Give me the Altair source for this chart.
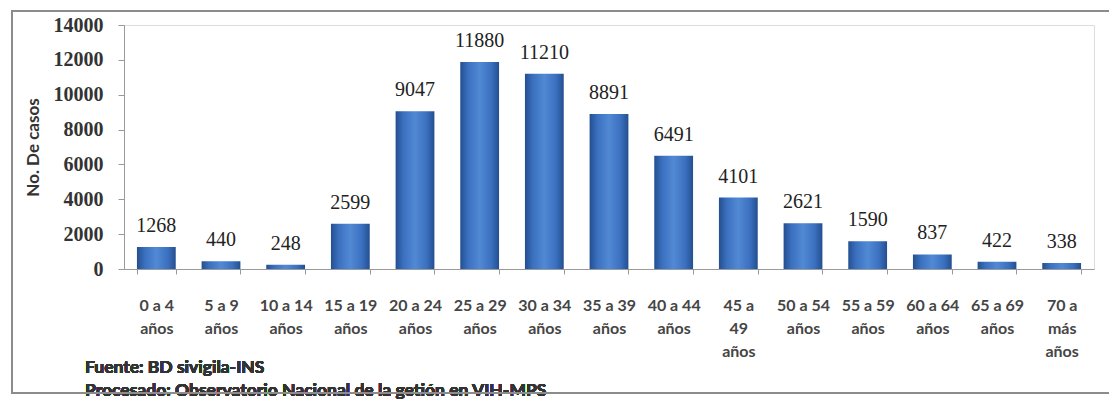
import altair as alt
import pandas as pd

# Age groups (line breaks as they wrap under each bar) and reported cases
grupos = [
    "0 a 4\naños", "5 a 9\naños", "10 a 14\naños", "15 a 19\naños",
    "20 a 24\naños", "25 a 29\naños", "30 a 34\naños", "35 a 39\naños",
    "40 a 44\naños", "45 a\n49\naños", "50 a 54\naños", "55 a 59\naños",
    "60 a 64\naños", "65 a 69\naños", "70 a\nmás\naños",
]
casos = [1268, 440, 248, 2599, 9047, 11880, 11210, 8891, 6491, 4101,
         2621, 1590, 837, 422, 338]
y_ticks = [0, 2000, 4000, 6000, 8000, 10000, 12000, 14000]

fuente = "Fuente: BD sivigila-INS"
procesado = "Procesado: Observatorio Nacional de la getión en VIH-MPS"

df = pd.DataFrame({"grupo": grupos, "casos": casos})

W, H = 970, 244
SANS = "Lato"
SERIF = "Liberation Serif"

bar_fill = alt.Gradient(
    gradient="linear",
    x1=0, x2=1, y1=0, y2=0,
    stops=[
        alt.GradientStop(offset=0.0, color="#244f8f"),
        alt.GradientStop(offset=0.2, color="#3a70bf"),
        alt.GradientStop(offset=0.5, color="#5289d4"),
        alt.GradientStop(offset=0.8, color="#3a70bf"),
        alt.GradientStop(offset=1.0, color="#244f8f"),
    ],
)

x_enc = alt.X(
    "grupo:N",
    sort=None,
    scale=alt.Scale(paddingInner=0.4, paddingOuter=0.2),
    axis=alt.Axis(
        title=None,
        labelAngle=0,
        labelExpr="split(datum.label, '\\n')",
        labelFont=SANS,
        labelFontSize=16,
        labelFontWeight="bold",
        labelColor="#454545",
        labelLineHeight=23,
        labelPadding=23,
        labelOverlap=False,
        labelLimit=0,
        tickBand="extent",
        tickSize=5,
        tickColor="#9a9a9a",
        domainColor="#9a9a9a",
    ),
)

y_enc = alt.Y(
    "casos:Q",
    scale=alt.Scale(domain=[0, 14000], nice=False),
    axis=alt.Axis(
        title="No. De casos",
        titleFont=SANS,
        titleFontSize=17,
        titleFontWeight="bold",
        titleColor="#333333",
        titlePadding=11,
        values=y_ticks,
        format="d",
        labelFont=SERIF,
        labelFontSize=20,
        labelFontWeight="bold",
        labelColor="#333333",
        labelPadding=15,
        labelOverlap=False,
        labelBound=False,
        labelFlush=False,
        tickSize=6,
        tickColor="#9a9a9a",
        domainColor="#9a9a9a",
        grid=False,
    ),
)

# Bars and their value labels share one encoding, hence one pair of axes
base = alt.Chart(df).encode(x=x_enc, y=y_enc)

bars = base.mark_bar(fill=bar_fill)

labels = base.mark_text(
    font=SERIF, fontSize=20, color="#222222", baseline="bottom", dy=-11
).encode(text="casos:Q")

# Outer border; its right side runs past the canvas edge
frame = alt.Chart(df).mark_rect(
    fill=None, stroke="#8c8c8c", strokeWidth=2
).encode(
    x=alt.value(-112), x2=alt.value(995), y=alt.value(-14), y2=alt.value(368)
)

nota1 = alt.Chart(df).mark_text(
    align="left", baseline="middle", font=SANS, fontSize=17.5,
    fontWeight="bold", color="#333333"
).encode(x=alt.value(-39), y=alt.value(343), text=alt.value(fuente))

nota2 = alt.Chart(df).mark_text(
    align="left", baseline="middle", font=SANS, fontSize=17.5,
    fontWeight="bold", color="#333333"
).encode(x=alt.value(-39), y=alt.value(366), text=alt.value(procesado))

chart = (
    alt.layer(bars, labels, nota1, nota2, frame)
    .properties(
        width=W,
        height=H,
        autosize=alt.AutoSizeParams(type="none"),
        padding={"left": 124, "top": 25, "right": 15, "bottom": 131},
    )
    .configure_view(stroke=None)
    .configure(background="white")
)

chart.save("out.html", embed_options={"renderer": "svg", "actions": False})
